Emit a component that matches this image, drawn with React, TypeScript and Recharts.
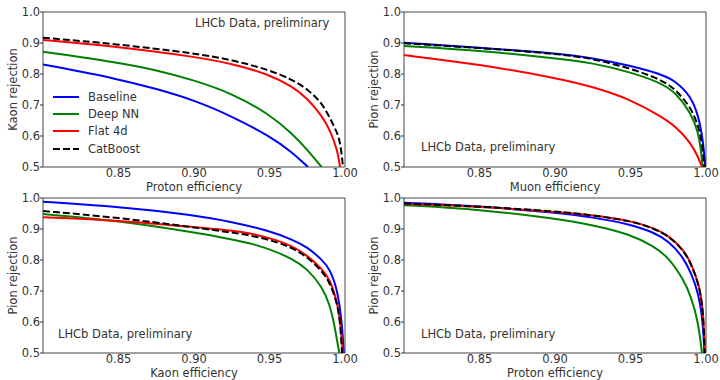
import { LineChart, Line, XAxis, YAxis, ReferenceArea } from 'recharts';

type Pt = [number, number];

// [efficiency, rejection]
// Proton efficiency vs Kaon rejection
const PK_BASELINE: Pt[] = [[0.80, 0.831], [0.85, 0.784], [0.875, 0.752], [0.90, 0.716], [0.925, 0.664], [0.95, 0.6], [0.965, 0.548], [0.9755, 0.5]];
const PK_DEEPNN: Pt[] = [[0.80, 0.872], [0.85, 0.837], [0.875, 0.813], [0.90, 0.78], [0.925, 0.738], [0.95, 0.67], [0.965, 0.608], [0.975, 0.556], [0.9845, 0.5]];
const PK_FLAT4D: Pt[] = [[0.80, 0.91], [0.85, 0.888], [0.90, 0.856], [0.925, 0.834], [0.95, 0.798], [0.965, 0.76], [0.975, 0.722], [0.985, 0.663], [0.99, 0.619], [0.995, 0.555], [0.9967, 0.5]];
const PK_CATBOOST: Pt[] = [[0.80, 0.917], [0.85, 0.896], [0.90, 0.867], [0.925, 0.846], [0.95, 0.813], [0.965, 0.782], [0.975, 0.752], [0.985, 0.705], [0.99, 0.658], [0.995, 0.61], [0.997, 0.575], [0.9987, 0.5]];

// Muon efficiency vs Pion rejection
const MP_BASELINE: Pt[] = [[0.80, 0.901], [0.85, 0.885], [0.90, 0.867], [0.925, 0.852], [0.95, 0.827], [0.97, 0.8], [0.98, 0.777], [0.99, 0.728], [0.995, 0.665], [0.998, 0.587], [0.9996, 0.5]];
const MP_DEEPNN: Pt[] = [[0.80, 0.89], [0.85, 0.876], [0.90, 0.851], [0.925, 0.836], [0.95, 0.806], [0.97, 0.772], [0.98, 0.74], [0.99, 0.675], [0.995, 0.61], [0.9965, 0.56], [0.9978, 0.5]];
const MP_FLAT4D: Pt[] = [[0.80, 0.861], [0.85, 0.831], [0.90, 0.788], [0.925, 0.759], [0.95, 0.718], [0.97, 0.664], [0.98, 0.631], [0.99, 0.578], [0.995, 0.53], [0.9973, 0.5]];
const MP_CATBOOST: Pt[] = [[0.80, 0.899], [0.85, 0.884], [0.90, 0.866], [0.925, 0.85], [0.95, 0.818], [0.97, 0.783], [0.98, 0.75], [0.99, 0.692], [0.995, 0.632], [0.9975, 0.575], [0.9989, 0.5]];

// Kaon efficiency vs Pion rejection
const KP_BASELINE: Pt[] = [[0.80, 0.988], [0.85, 0.972], [0.90, 0.945], [0.925, 0.923], [0.95, 0.894], [0.965, 0.866], [0.975, 0.842], [0.985, 0.8], [0.99, 0.77], [0.995, 0.705], [0.998, 0.598], [0.9992, 0.5]];
const KP_DEEPNN: Pt[] = [[0.80, 0.948], [0.85, 0.927], [0.90, 0.889], [0.925, 0.867], [0.94, 0.851], [0.955, 0.826], [0.965, 0.803], [0.975, 0.772], [0.985, 0.713], [0.99, 0.655], [0.993, 0.59], [0.9962, 0.5]];
const KP_FLAT4D: Pt[] = [[0.80, 0.938], [0.85, 0.928], [0.90, 0.906], [0.925, 0.895], [0.94, 0.884], [0.955, 0.864], [0.965, 0.845], [0.975, 0.815], [0.985, 0.77], [0.99, 0.738], [0.995, 0.662], [0.997, 0.6], [0.9985, 0.5]];
const KP_CATBOOST: Pt[] = [[0.80, 0.958], [0.85, 0.937], [0.90, 0.905], [0.925, 0.889], [0.94, 0.877], [0.955, 0.858], [0.965, 0.839], [0.975, 0.81], [0.985, 0.763], [0.99, 0.727], [0.995, 0.659], [0.997, 0.59], [0.998, 0.5]];

// Proton efficiency vs Pion rejection
const PP_BASELINE: Pt[] = [[0.80, 0.985], [0.85, 0.974], [0.90, 0.953], [0.925, 0.938], [0.95, 0.915], [0.965, 0.89], [0.975, 0.862], [0.985, 0.809], [0.99, 0.759], [0.995, 0.695], [0.998, 0.6], [0.9989, 0.5]];
const PP_DEEPNN: Pt[] = [[0.80, 0.977], [0.85, 0.963], [0.90, 0.934], [0.925, 0.913], [0.95, 0.883], [0.965, 0.845], [0.975, 0.81], [0.985, 0.738], [0.99, 0.684], [0.995, 0.598], [0.9973, 0.5]];
const PP_FLAT4D: Pt[] = [[0.80, 0.981], [0.85, 0.972], [0.90, 0.956], [0.925, 0.945], [0.95, 0.927], [0.965, 0.904], [0.975, 0.88], [0.985, 0.834], [0.99, 0.791], [0.995, 0.727], [0.998, 0.652], [0.9993, 0.5]];
const PP_CATBOOST: Pt[] = [[0.80, 0.982], [0.85, 0.973], [0.90, 0.957], [0.925, 0.945], [0.95, 0.926], [0.965, 0.903], [0.975, 0.879], [0.985, 0.832], [0.99, 0.789], [0.995, 0.725], [0.998, 0.65], [0.9992, 0.5]];

const X_TICKS = [0.85, 0.9, 0.95, 1.0];
const Y_TICKS = [0.5, 0.6, 0.7, 0.8, 0.9, 1.0];

const SERIES = [
  { name: 'Baseline', color: '#0000ff' },
  { name: 'Deep NN', color: '#008000' },
  { name: 'Flat 4d', color: '#ff0000' },
  { name: 'CatBoost', color: '#000000', dash: '7 3' },
];

const FONT = '"DejaVu Sans", sans-serif';
const INK = '#333';
const NOTE = 'LHCb Data, preliminary';

const toRows = (pts: Pt[]) => pts.map(([e, r]) => ({ e, r }));

const PANELS = [
  { left: 0, top: 0, height: 196, mt: 12, mr: 15, yw: 43, xh: 29, xo: 5, yo: 13, xLabel: 'Proton efficiency', yLabel: 'Kaon rejection', data: [PK_BASELINE, PK_DEEPNN, PK_FLAT4D, PK_CATBOOST] },
  { left: 360, top: 0, height: 196, mt: 12, mr: 14, yw: 44, xh: 29, xo: 5, yo: 14, xLabel: 'Muon efficiency', yLabel: 'Pion rejection', data: [MP_BASELINE, MP_DEEPNN, MP_FLAT4D, MP_CATBOOST] },
  { left: 0, top: 190, height: 190, mt: 8, mr: 15, yw: 43, xh: 27, xo: 3, yo: 13, xLabel: 'Kaon efficiency', yLabel: 'Pion rejection', data: [KP_BASELINE, KP_DEEPNN, KP_FLAT4D, KP_CATBOOST] },
  { left: 360, top: 190, height: 190, mt: 8, mr: 14, yw: 44, xh: 27, xo: 3, yo: 14, xLabel: 'Proton efficiency', yLabel: 'Pion rejection', data: [PP_BASELINE, PP_DEEPNN, PP_FLAT4D, PP_CATBOOST] },
];

// annotation positions (page px)
const NOTES = [
  { left: 195, top: 16 },
  { left: 421, top: 140 },
  { left: 58, top: 327 },
  { left: 421, top: 327 },
];

const tickStyle = { fill: INK, fontSize: 11.5, fontFamily: FONT };

const Panel = ({ p }: { p: (typeof PANELS)[number] }) => (
  <div style={{ position: 'absolute', left: p.left, top: p.top }}>
    <LineChart width={360} height={p.height} margin={{ top: p.mt, right: p.mr, left: 0, bottom: 0 }}>
      <XAxis
        type="number"
        dataKey="e"
        domain={[0.8, 1.0]}
        allowDataOverflow
        ticks={X_TICKS}
        tickFormatter={(v: number) => v.toFixed(2)}
        height={p.xh}
        tick={tickStyle}
        tickSize={0}
        tickMargin={2}
        tickLine={false}
        axisLine={false}
        label={{ value: p.xLabel, position: 'insideBottom', offset: p.xo, style: { fill: INK, fontSize: 11.5, fontFamily: FONT } }}
      />
      <YAxis
        type="number"
        dataKey="r"
        domain={[0.5, 1.0]}
        allowDataOverflow
        ticks={Y_TICKS}
        tickFormatter={(v: number) => v.toFixed(1)}
        width={p.yw}
        tick={tickStyle}
        tickSize={3}
        tickMargin={0}
        tickLine={{ stroke: INK }}
        axisLine={false}
        label={{ value: p.yLabel, angle: -90, position: 'insideLeft', offset: p.yo, style: { fill: INK, fontSize: 11.5, fontFamily: FONT, textAnchor: 'middle' } }}
      />
      <ReferenceArea x1={0.8} x2={1.0} y1={0.5} y2={1.0} fill="none" stroke="#444" strokeWidth={1} ifOverflow="visible" />
      {p.data.map((pts, i) => (
        <Line
          key={SERIES[i].name}
          data={toRows(pts)}
          dataKey="r"
          type="basis"
          stroke={SERIES[i].color}
          strokeWidth={2}
          strokeDasharray={SERIES[i].dash}
          dot={false}
          activeDot={false}
          isAnimationActive={false}
        />
      ))}
    </LineChart>
  </div>
);

export default function App() {
  return (
    <div style={{ position: 'absolute', left: 0, top: 0, width: 720, height: 380, background: '#fff', fontFamily: FONT, overflow: 'hidden' }}>
      {PANELS.map((p, i) => (
        <Panel key={i} p={p} />
      ))}
      {NOTES.map((n, i) => (
        <div key={i} style={{ position: 'absolute', left: n.left, top: n.top, fontSize: 11.5, lineHeight: '14px', color: INK, whiteSpace: 'nowrap' }}>
          {NOTE}
        </div>
      ))}
      {/* legend, top-left panel */}
      {SERIES.map((s, i) => (
        <div key={s.name} style={{ position: 'absolute', left: 53, top: 90 + i * 17.2, height: 14, display: 'flex', alignItems: 'center', fontSize: 11.5, color: INK, whiteSpace: 'nowrap' }}>
          <svg width={26} height={4} style={{ marginRight: 9 }}>
            <line x1={0} y1={2} x2={26} y2={2} stroke={s.color} strokeWidth={2} strokeDasharray={s.dash} />
          </svg>
          {s.name}
        </div>
      ))}
    </div>
  );
}
